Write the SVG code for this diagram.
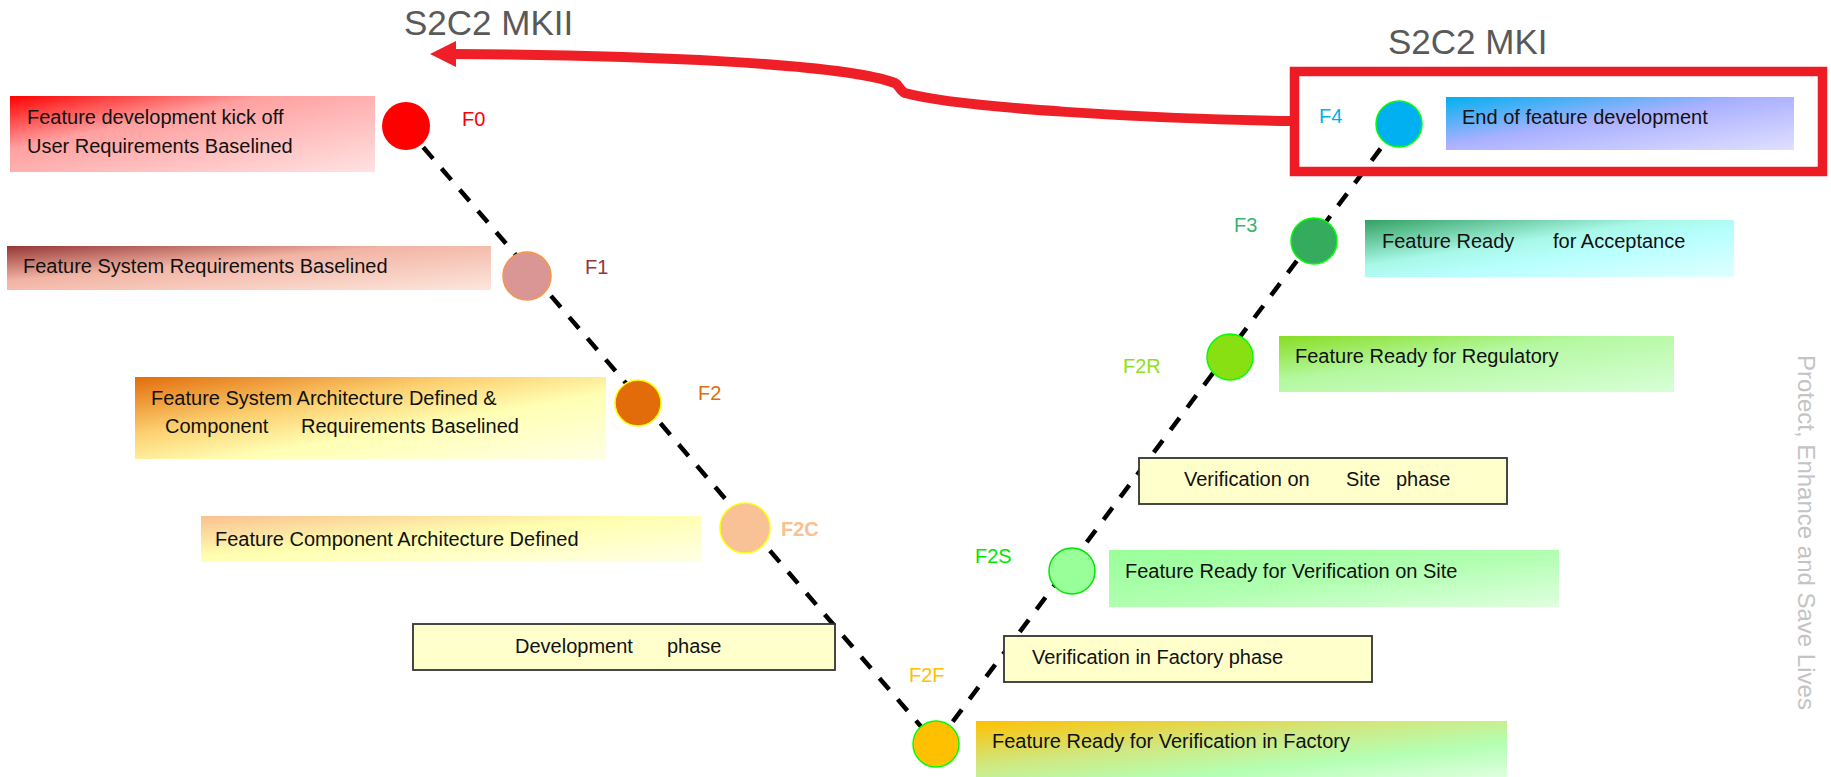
<svg xmlns="http://www.w3.org/2000/svg" width="1831" height="777" viewBox="0 0 1831 777">
<style>
text{font-family:"Liberation Sans",Arial,sans-serif;font-size:20px;fill:#111}
.title{font-size:35px;fill:#595959}
.lbl{font-size:20px}
.ms{stroke-width:1.5}
.phase{fill:#ffffcc;stroke:#333;stroke-width:1.8}
.dash{fill:none;stroke:#000;stroke-width:4.5;stroke-dasharray:15 13}
.side{font-size:24px;fill:#c4c4c4}
</style>
<defs>
<linearGradient id="gF0" x1="0" y1="0" x2="1" y2="1"><stop offset="0" stop-color="#ff0000"/><stop offset="0.35" stop-color="#ffa0a0"/><stop offset="1" stop-color="#ffe2e2"/></linearGradient>
<linearGradient id="gF1" x1="0" y1="0" x2="1" y2="1"><stop offset="0" stop-color="#953735"/><stop offset="0.4" stop-color="#f2b4a4"/><stop offset="1" stop-color="#fde6dc"/></linearGradient>
<linearGradient id="gF2" x1="0" y1="0" x2="1" y2="1"><stop offset="0" stop-color="#e36c0a"/><stop offset="0.35" stop-color="#fcd070"/><stop offset="0.6" stop-color="#ffffb4"/><stop offset="1" stop-color="#ffffe4"/></linearGradient>
<linearGradient id="gF2C" x1="0" y1="0" x2="1" y2="1"><stop offset="0" stop-color="#fac090"/><stop offset="0.45" stop-color="#ffffb0"/><stop offset="1" stop-color="#ffffe6"/></linearGradient>
<linearGradient id="gF2F" x1="0" y1="0" x2="1" y2="1"><stop offset="0" stop-color="#ffc000"/><stop offset="0.4" stop-color="#d0e880"/><stop offset="0.7" stop-color="#b4ffb4"/><stop offset="1" stop-color="#e0ffe0"/></linearGradient>
<linearGradient id="gF2S" x1="0" y1="0" x2="1" y2="1"><stop offset="0" stop-color="#99ff99"/><stop offset="0.5" stop-color="#b0ffb0"/><stop offset="1" stop-color="#e0ffe0"/></linearGradient>
<linearGradient id="gF2R" x1="0" y1="0" x2="1" y2="1"><stop offset="0" stop-color="#88dd22"/><stop offset="0.4" stop-color="#b4f8a0"/><stop offset="1" stop-color="#d8ffd8"/></linearGradient>
<linearGradient id="gF3" x1="0" y1="0" x2="1" y2="1"><stop offset="0" stop-color="#33a060"/><stop offset="0.4" stop-color="#a8f8e8"/><stop offset="0.6" stop-color="#b8ffff"/><stop offset="1" stop-color="#e0ffff"/></linearGradient>
<linearGradient id="gF4" x1="0" y1="0" x2="1" y2="1"><stop offset="0" stop-color="#00b0f0"/><stop offset="0.45" stop-color="#aab0ff"/><stop offset="1" stop-color="#e0e0ff"/></linearGradient>
</defs>

<g id="connectors">
<line class="dash" x1="405" y1="126" x2="936" y2="744"/>
<line class="dash" x1="936" y1="744" x2="1399" y2="124"/>
<path d="M1292,121 C1150,119 960,108 905,93 C900,91 899,85 895,83 C840,63 640,55 452,54" fill="none" stroke="#ee1f27" stroke-width="10"/>
<polygon points="430,54 456,41 456,67" fill="#ee1f27"/>
</g>

<g id="title-mkii"><text class="title" x="404" y="35">S2C2 MKII</text></g>
<g id="title-mki"><text class="title" x="1388" y="54">S2C2 MKI</text></g>

<g id="F0">
<rect x="10" y="96" width="365" height="76" fill="url(#gF0)"/>
<text x="27" y="124">Feature development kick off</text>
<text x="27" y="153">User Requirements Baselined</text>
<circle cx="406" cy="126" r="24" fill="#ff0000"/>
<text class="lbl" x="462" y="126" style="fill:#ff0000">F0</text>
</g>

<g id="F1">
<rect x="7" y="246" width="484" height="44" fill="url(#gF1)"/>
<text x="23" y="273">Feature System Requirements Baselined</text>
<circle class="ms" cx="527" cy="276" r="24" fill="#d99694" stroke="#f79646"/>
<text class="lbl" x="585" y="274" style="fill:#953735">F1</text>
</g>

<g id="F2">
<rect x="135" y="377" width="471" height="82" fill="url(#gF2)"/>
<text x="151" y="405">Feature System Architecture Defined &amp;</text>
<text y="433"><tspan x="165">Component</tspan><tspan x="301">Requirements Baselined</tspan></text>
<circle class="ms" cx="638" cy="403" r="23" fill="#e36c0a" stroke="#ffff00"/>
<text class="lbl" x="698" y="400" style="fill:#e36c0a">F2</text>
</g>

<g id="F2C">
<rect x="201" y="516" width="500" height="46" fill="url(#gF2C)"/>
<text x="215" y="546">Feature Component Architecture Defined</text>
<circle class="ms" cx="745" cy="528" r="25" fill="#f9c196" stroke="#ffff00"/>
<text class="lbl" x="781" y="536" style="fill:#fac090;font-weight:bold">F2C</text>
</g>

<g id="phase-development">
<rect class="phase" x="413" y="624" width="422" height="46"/>
<text y="653"><tspan x="515">Development</tspan><tspan x="667">phase</tspan></text>
</g>

<g id="F2F">
<rect x="976" y="721" width="531" height="56" fill="url(#gF2F)"/>
<text x="992" y="748">Feature Ready for Verification in Factory</text>
<circle class="ms" cx="936" cy="744" r="23" fill="#ffc000" stroke="#00ff00"/>
<text class="lbl" x="909" y="682" style="fill:#ffc000">F2F</text>
</g>

<g id="phase-verification-factory">
<rect class="phase" x="1004" y="636" width="368" height="46"/>
<text x="1032" y="664">Verification in Factory phase</text>
</g>

<g id="F2S">
<rect x="1109" y="550" width="450" height="57" fill="url(#gF2S)"/>
<text x="1125" y="578">Feature Ready for Verification on Site</text>
<circle class="ms" cx="1072" cy="571" r="23" fill="#99ff99" stroke="#00e600"/>
<text class="lbl" x="975" y="563" style="fill:#00e600">F2S</text>
</g>

<g id="phase-verification-site">
<rect class="phase" x="1139" y="458" width="368" height="46"/>
<text y="486"><tspan x="1184">Verification on</tspan><tspan x="1346">Site</tspan><tspan x="1396">phase</tspan></text>
</g>

<g id="F2R">
<rect x="1279" y="336" width="395" height="56" fill="url(#gF2R)"/>
<text x="1295" y="363">Feature Ready for Regulatory</text>
<circle class="ms" cx="1230" cy="357" r="23" fill="#88e012" stroke="#00ff00"/>
<text class="lbl" x="1123" y="373" style="fill:#8ee01a">F2R</text>
</g>

<g id="F3">
<rect x="1365" y="220" width="369" height="57" fill="url(#gF3)"/>
<text y="248"><tspan x="1382">Feature Ready</tspan><tspan x="1553">for Acceptance</tspan></text>
<circle class="ms" cx="1314" cy="241" r="23" fill="#35ab5e" stroke="#00ff00"/>
<text class="lbl" x="1234" y="232" style="fill:#3cb371">F3</text>
</g>

<g id="F4">
<rect x="1294.5" y="71.5" width="528" height="100" fill="none" stroke="#ed1c24" stroke-width="9.5"/>
<rect x="1446" y="97" width="348" height="53" fill="url(#gF4)"/>
<text x="1462" y="124">End of feature development</text>
<circle class="ms" cx="1399" cy="124" r="23" fill="#00b0f0" stroke="#00ff00"/>
<text class="lbl" x="1319" y="123" style="fill:#00b0f0">F4</text>
</g>

<g id="side-note">
<text class="side" transform="translate(1798,355) rotate(90)">Protect, Enhance and Save Lives</text>
</g>
</svg>
